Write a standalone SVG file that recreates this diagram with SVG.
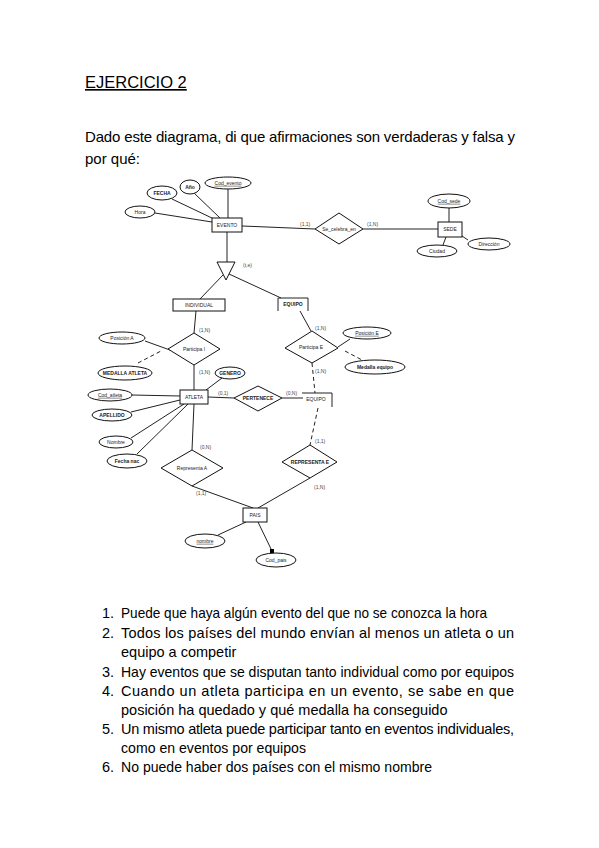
<svg xmlns="http://www.w3.org/2000/svg" width="599" height="848" viewBox="0 0 599 848">
<style>
.t{font-family:"Liberation Sans",Arial,sans-serif;fill:#000}
.d{font-family:"Liberation Sans",Arial,sans-serif;font-size:5px;fill:#222;text-anchor:middle;dominant-baseline:middle}
.b{font-weight:bold}
.u{text-decoration:underline}
.s{fill:#fff;stroke:#111;stroke-width:1}
.l{fill:none;stroke:#222;stroke-width:1}
.dash{fill:none;stroke:#222;stroke-width:1;stroke-dasharray:4 3}
.c{font-family:"Liberation Sans",Arial,sans-serif;font-size:5px;fill:#444}
</style>
<rect width="599" height="848" fill="#fff"/>
<text class="t" x="85" y="88" font-size="16.5" text-decoration="underline">EJERCICIO 2</text>
<text class="t" x="85" y="142" font-size="15" textLength="430" lengthAdjust="spacing">Dado este diagrama, di que afirmaciones son verdaderas y falsa y</text>
<text class="t" x="85" y="164" font-size="15">por qué:</text>

<g id="connectors">
<line class="l" x1="228" y1="189" x2="228" y2="218"/>
<line class="l" x1="194" y1="193" x2="220" y2="218"/>
<line class="l" x1="172" y1="199" x2="214" y2="219"/>
<line class="l" x1="155" y1="213" x2="212" y2="222"/>
<line class="l" x1="242" y1="226" x2="315" y2="229"/>
<line class="l" x1="227" y1="232" x2="227" y2="262"/>
<line class="l" x1="363" y1="229" x2="438" y2="229"/>
<line class="l" x1="449" y1="208" x2="449" y2="222"/>
<line class="l" x1="443" y1="245" x2="446" y2="237"/>
<line class="l" x1="468" y1="240" x2="462" y2="236"/>
<line class="l" x1="223" y1="275" x2="200" y2="299"/>
<line class="l" x1="229" y1="274" x2="281" y2="298"/>
<line class="l" x1="196" y1="311" x2="194" y2="333"/>
<line class="l" x1="145" y1="341" x2="170" y2="350"/>
<line class="dash" x1="138" y1="363" x2="161" y2="351"/>
<line class="l" x1="194" y1="365" x2="194" y2="390"/>
<line class="l" x1="222" y1="378" x2="206" y2="390"/>
<line class="l" x1="132" y1="395" x2="180" y2="396"/>
<line class="l" x1="131" y1="412" x2="180" y2="400"/>
<line class="l" x1="131" y1="438" x2="184" y2="404"/>
<line class="l" x1="137" y1="454" x2="188" y2="404"/>
<line class="l" x1="194" y1="404" x2="192" y2="450"/>
<line class="l" x1="208" y1="397" x2="234" y2="398"/>
<line class="l" x1="282" y1="398" x2="303" y2="398"/>
<line class="l" x1="300" y1="311" x2="311" y2="331"/>
<line class="l" x1="338" y1="347" x2="350" y2="339"/>
<line class="dash" x1="345" y1="351" x2="362" y2="360"/>
<line class="dash" x1="312" y1="363" x2="315" y2="393"/>
<line class="dash" x1="318" y1="408" x2="310" y2="445"/>
<line class="l" x1="192" y1="486" x2="253" y2="508"/>
<line class="l" x1="310" y1="478" x2="258" y2="508"/>
<line class="l" x1="246" y1="522" x2="218" y2="535"/>
<line class="l" x1="258" y1="522" x2="272" y2="551"/>
<rect x="270" y="549" width="4" height="4" fill="#000"/>
<text class="c" x="243" y="267">(t,e)</text>
<text class="c" x="300" y="226">(1,1)</text>
<text class="c" x="367" y="226">(1,N)</text>
<text class="c" x="199" y="332">(1,N)</text>
<text class="c" x="199" y="374">(1,N)</text>
<text class="c" x="200" y="449">(0,N)</text>
<text class="c" x="218" y="395">(0,1)</text>
<text class="c" x="286" y="395">(0,N)</text>
<text class="c" x="315" y="330">(1,N)</text>
<text class="c" x="315" y="373">(1,N)</text>
<text class="c" x="315" y="443">(1,1)</text>
<text class="c" x="314" y="489">(1,N)</text>
<text class="c" x="196" y="495">(1,1)</text>
</g>

<g id="evento">
<rect class="s" x="212" y="218" width="30" height="14"/>
<text class="d" x="227" y="225.5">EVENTO</text>
</g>
<g id="cod_evento"><ellipse class="s" cx="228" cy="183" rx="23" ry="6"/><text class="d u" x="228" y="183.5">Cod_evento</text></g>
<g id="anio"><ellipse class="s" cx="190" cy="187" rx="10" ry="7"/><text class="d b" x="190" y="187.5">Año</text></g>
<g id="fecha"><ellipse class="s" cx="162" cy="193" rx="15" ry="7"/><text class="d b" x="162" y="193.5">FECHA</text></g>
<g id="hora"><ellipse class="s" cx="140" cy="212" rx="15" ry="6"/><text class="d" x="140" y="212.5">Hora</text></g>

<g id="se_celebra"><polygon class="s" points="315,229 339,213 363,229 339,244"/><text class="d" x="339" y="229.5">Se_celebra_en</text></g>
<g id="sede"><rect class="s" x="438" y="222" width="24" height="15"/><text class="d" x="450" y="229.5">SEDE</text></g>
<g id="cod_sede"><ellipse class="s" cx="449" cy="201" rx="21" ry="7"/><text class="d u" x="449" y="201.5">Cod_sede</text></g>
<g id="ciudad"><ellipse class="s" cx="437" cy="251" rx="20" ry="6"/><text class="d" x="437" y="251.5">Ciudad</text></g>
<g id="direccion"><ellipse class="s" cx="489" cy="244" rx="21" ry="6"/><text class="d" x="489" y="244.5">Dirección</text></g>

<g id="isa"><polygon class="s" points="217,262 235,262 226,280"/></g>

<g id="individual"><rect class="s" x="173" y="299" width="52" height="12"/><text class="d" x="199" y="305.5">INDIVIDUAL</text></g>
<g id="equipo_sub"><path class="l" d="M278,311 V298 H308 V311"/><text class="d b" x="293" y="305">EQUIPO</text></g>

<g id="participa_i"><polygon class="s" points="168,349 194,333 220,349 194,365"/><text class="d" x="194" y="349.5">Participa I</text></g>
<g id="posicion_a"><ellipse class="s" cx="122" cy="338" rx="23" ry="6"/><text class="d" x="122" y="338.5">Posición A</text></g>
<g id="medalla_atleta"><ellipse class="s" cx="125" cy="373" rx="27" ry="7"/><text class="d b" x="125" y="373.5">MEDALLA ATLETA</text></g>

<g id="atleta"><rect class="s" x="180" y="390" width="28" height="14"/><text class="d" x="194" y="397.5">ATLETA</text></g>
<g id="genero"><ellipse class="s" cx="230" cy="373" rx="15" ry="6"/><text class="d b" x="230" y="373.5">GENERO</text></g>
<g id="cod_atleta"><ellipse class="s" cx="110" cy="395" rx="22" ry="6"/><text class="d u" x="110" y="395.5">Cod_atleta</text></g>
<g id="apellido"><ellipse class="s" cx="112" cy="415" rx="20" ry="6"/><text class="d b" x="112" y="415.5">APELLIDO</text></g>
<g id="nombre_a"><ellipse class="s" cx="116" cy="442" rx="17" ry="6"/><text class="d" x="116" y="442.5">Nombre</text></g>
<g id="fecha_nac"><ellipse class="s" cx="127" cy="461" rx="20" ry="7"/><text class="d b" x="127" y="461.5">Fecha nac</text></g>

<g id="pertenece"><polygon class="s" points="234,398 258,386 282,398 258,411"/><text class="d b" x="258" y="398.5">PERTENECE</text></g>
<g id="equipo"><path class="l" d="M302,393 H332 V407"/><text class="d" x="316" y="400">EQUIPO</text></g>

<g id="participa_e"><polygon class="s" points="285,348 312,331 338,348 312,363"/><text class="d" x="311" y="347.5">Participa E</text></g>
<g id="posicion_e"><ellipse class="s" cx="367" cy="333" rx="24" ry="6"/><text class="d u" x="367" y="333.5">Posición E</text></g>
<g id="medalla_equipo"><ellipse class="s" cx="375" cy="367" rx="30" ry="7"/><text class="d b" x="375" y="367.5">Medalla equipo</text></g>

<g id="representa_a"><polygon class="s" points="161,468 192,450 223,468 192,486"/><text class="d" x="192" y="468.5">Representa A</text></g>
<g id="representa_e"><polygon class="s" points="282,462 310,445 337,462 310,478"/><text class="d b" x="310" y="462.5">REPRESENTA E</text></g>

<g id="pais"><rect class="s" x="243" y="508" width="24" height="14"/><text class="d" x="255" y="515.5">PAIS</text></g>
<g id="nombre_p"><ellipse class="s" cx="205" cy="541" rx="20" ry="7"/><text class="d u" x="205" y="541.5">nombre</text></g>
<g id="cod_pais"><ellipse class="s" cx="276" cy="560" rx="20" ry="7"/><text class="d" x="276" y="560.5">Cod_pais</text></g>

<g font-size="14.5">
<text class="t" x="102" y="618">1.</text><text class="t" x="121" y="618" textLength="366" lengthAdjust="spacingAndGlyphs">Puede que haya algún evento del que no se conozca la hora</text>
<text class="t" x="102" y="638">2.</text><text class="t" x="121" y="638" textLength="393" lengthAdjust="spacing">Todos los países del mundo envían al menos un atleta o un</text>
<text class="t" x="121" y="657">equipo a competir</text>
<text class="t" x="102" y="677">3.</text><text class="t" x="121" y="677" textLength="393" lengthAdjust="spacingAndGlyphs">Hay eventos que se disputan tanto individual como por equipos</text>
<text class="t" x="102" y="696">4.</text><text class="t" x="121" y="696" textLength="393" lengthAdjust="spacing">Cuando un atleta participa en un evento, se sabe en que</text>
<text class="t" x="121" y="715">posición ha quedado y qué medalla ha conseguido</text>
<text class="t" x="102" y="734">5.</text><text class="t" x="121" y="734" textLength="393" lengthAdjust="spacing">Un mismo atleta puede participar tanto en eventos individuales,</text>
<text class="t" x="121" y="753" textLength="185" lengthAdjust="spacingAndGlyphs">como en eventos por equipos</text>
<text class="t" x="102" y="772">6.</text><text class="t" x="121" y="772" textLength="311" lengthAdjust="spacingAndGlyphs">No puede haber dos países con el mismo nombre</text>
</g>
</svg>
